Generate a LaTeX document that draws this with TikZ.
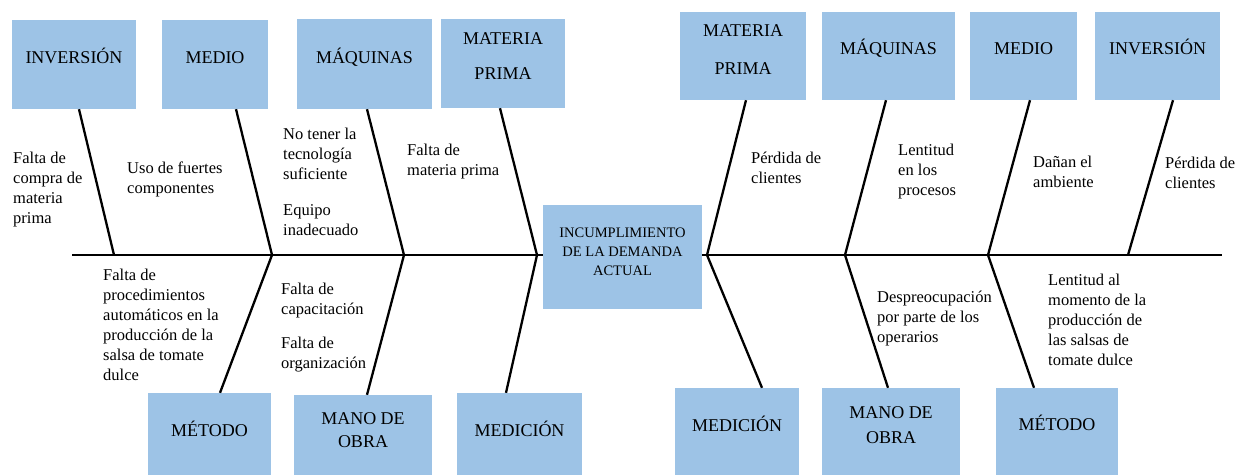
\documentclass[tikz,border=0pt]{standalone}
\usepackage{fontspec}
\setmainfont{Liberation Serif}
\usetikzlibrary{fit}
\definecolor{boxblue}{RGB}{157,195,230}
\tikzset{
  catbox/.style={fill=boxblue, draw=none, inner sep=0pt},
  catlabel/.style={font=\fontsize{18}{22}\selectfont, align=center, inner sep=0pt},
  efflabel/.style={font=\fontsize{14.5}{19}\selectfont, align=center, inner sep=0pt},
  smalltxt/.style={font=\fontsize{16.5}{20}\selectfont, align=left, anchor=north west, inner sep=0pt},
  bone/.style={line width=2.3pt, black},
  spine/.style={line width=2.6pt, black}
}
\newcommand{\fst}{\rule{0pt}{13pt}}
\begin{document}
\begin{tikzpicture}[x=1pt,y=-1pt]
\useasboundingbox (0,0) rectangle (1239,475);

% ---- boxes top-left
\node[catbox, fit={(12,20) (136,109)}] (invL) {};
\node[catbox, fit={(162,20) (268,109)}] (medL) {};
\node[catbox, fit={(297,19) (432,109)}] (maqL) {};
\node[catbox, fit={(441,19) (565,108)}] (matL) {};
% ---- boxes top-right
\node[catbox, fit={(680,12) (806,100)}] (matR) {};
\node[catbox, fit={(822,12) (955,100)}] (maqR) {};
\node[catbox, fit={(970,12) (1077,100)}] (medR) {};
\node[catbox, fit={(1095,12) (1220,100)}] (invR) {};
% ---- boxes bottom-left
\node[catbox, fit={(148,393) (271,475)}] (metL) {};
\node[catbox, fit={(294,395) (432,475)}] (manL) {};
\node[catbox, fit={(457,393) (582,475)}] (mdcL) {};
% ---- boxes bottom-right
\node[catbox, fit={(675,388) (799,475)}] (mdcR) {};
\node[catbox, fit={(822,388) (960,475)}] (manR) {};
\node[catbox, fit={(996,388) (1118,475)}] (metR) {};
% ---- effect box
\node[catbox, fit={(543,205) (702,309)}] (eff) {};

% ---- box labels
\node[catlabel, anchor=base] (invLt) at (invL.center |- 0,63) {INVERSIÓN};
\node[catlabel, anchor=base] (medLt) at (medL.center |- 0,63) {MEDIO};
\node[catlabel, anchor=base] (maqLt) at (maqL.center |- 0,63) {MÁQUINAS};
\node[catlabel, anchor=north] (matLt) at (matL.center |- 0,30) {\rule{0pt}{14pt}MATERIA\\[13pt]PRIMA};
\node[catlabel, anchor=north] (matRt) at (matR.center |- 0,22) {\rule{0pt}{14pt}MATERIA\\[16pt]PRIMA};
\node[catlabel, anchor=base] (maqRt) at (maqR.center |- 0,54) {MÁQUINAS};
\node[catlabel, anchor=base] (medRt) at (medR.center |- 0,54) {MEDIO};
\node[catlabel, anchor=base] (invRt) at (invR.center |- 0,54) {INVERSIÓN};
\node[catlabel, anchor=base] (metLt) at (metL.center |- 0,436) {MÉTODO};
\node[catlabel, anchor=north] (manLt) at (manL.center |- 0,410) {\rule{0pt}{14pt}MANO DE\\[1pt]OBRA};
\node[catlabel, anchor=base] (mdcLt) at (mdcL.center |- 0,436) {MEDICIÓN};
\node[catlabel, anchor=base] (mdcRt) at (mdcR.center |- 0,431) {MEDICIÓN};
\node[catlabel, anchor=north] (manRt) at (manR.center |- 0,404) {\rule{0pt}{14pt}MANO DE\\[3pt]OBRA};
\node[catlabel, anchor=base] (metRt) at (metR.center |- 0,430) {MÉTODO};
\node[efflabel, anchor=north] (efft) at (eff.center |- 0,225) {\rule{0pt}{12pt}INCUMPLIMIENTO\\DE LA DEMANDA\\ACTUAL};

% ---- spine
\coordinate (spL) at (72,255);
\coordinate (spR) at (1222,255);
\draw[spine] (spL) -- (eff.west |- spL);
\draw[spine] (eff.east |- spR) -- (spR);

% ---- junctions on the spine
\coordinate (jL1) at (114,255);
\coordinate (jL2) at (272,255);
\coordinate (jL3) at (404,255);
\coordinate (jL4) at (537,255);
\coordinate (jR1) at (707,255);
\coordinate (jR2) at (845,255);
\coordinate (jR3) at (988,255);
\coordinate (jR4) at (1128,255);

% ---- bones
\draw[bone] ([xshift=5pt]invL.south) -- (jL1);
\draw[bone] ([xshift=21pt]medL.south) -- (jL2);
\draw[bone] ([xshift=2.5pt]maqL.south) -- (jL3);
\draw[bone] ([xshift=-3pt]matL.south) -- (jL4);
\draw[bone] ([xshift=10.5pt]metL.north) -- (jL2);
\draw[bone] ([xshift=4pt]manL.north) -- (jL3);
\draw[bone] ([xshift=-13.5pt]mdcL.north) -- (jL4);
\draw[bone] ([xshift=3pt]matR.south) -- (jR1);
\draw[bone] ([xshift=-2.5pt]maqR.south) -- (jR2);
\draw[bone] ([xshift=6.5pt]medR.south) -- (jR3);
\draw[bone] ([xshift=15.5pt]invR.south) -- (jR4);
\draw[bone] ([xshift=25pt]mdcR.north) -- (jR1);
\draw[bone] ([xshift=-3pt]manR.north) -- (jR2);
\draw[bone] ([xshift=-23pt]metR.north) -- (jR3);

% ---- causes
\node[smalltxt] (c1) at (13,150) {\fst Falta de\\compra de\\materia\\prima};
\node[smalltxt] (c2) at (127,160) {\fst Uso de fuertes\\componentes};
\node[smalltxt] (c3) at (283,126) {\fst No tener la\\tecnología\\suficiente};
\node[smalltxt] (c4) at (283,202) {\fst Equipo\\inadecuado};
\node[smalltxt] (c5) at (407,142) {\fst Falta de\\materia prima};
\node[smalltxt] (c6) at (751,150) {\fst Pérdida de\\clientes};
\node[smalltxt] (c7) at (898,142) {\fst Lentitud\\en los\\procesos};
\node[smalltxt] (c8) at (1033,154) {\fst Dañan el\\ambiente};
\node[smalltxt] (c9) at (1165,155) {\fst Pérdida de\\clientes};
\node[smalltxt] (c10) at (103,267) {\fst Falta de\\procedimientos\\automáticos en la\\producción de la\\salsa de tomate\\dulce};
\node[smalltxt] (c11) at (281,281) {\fst Falta de\\capacitación};
\node[smalltxt] (c12) at (281,335) {\fst Falta de\\organización};
\node[smalltxt] (c13) at (877,289) {\fst Despreocupación\\por parte de los\\operarios};
\node[smalltxt] (c14) at (1048,272) {\fst Lentitud al\\momento de la\\producción de\\las salsas de\\tomate dulce};
\end{tikzpicture}
\end{document}
